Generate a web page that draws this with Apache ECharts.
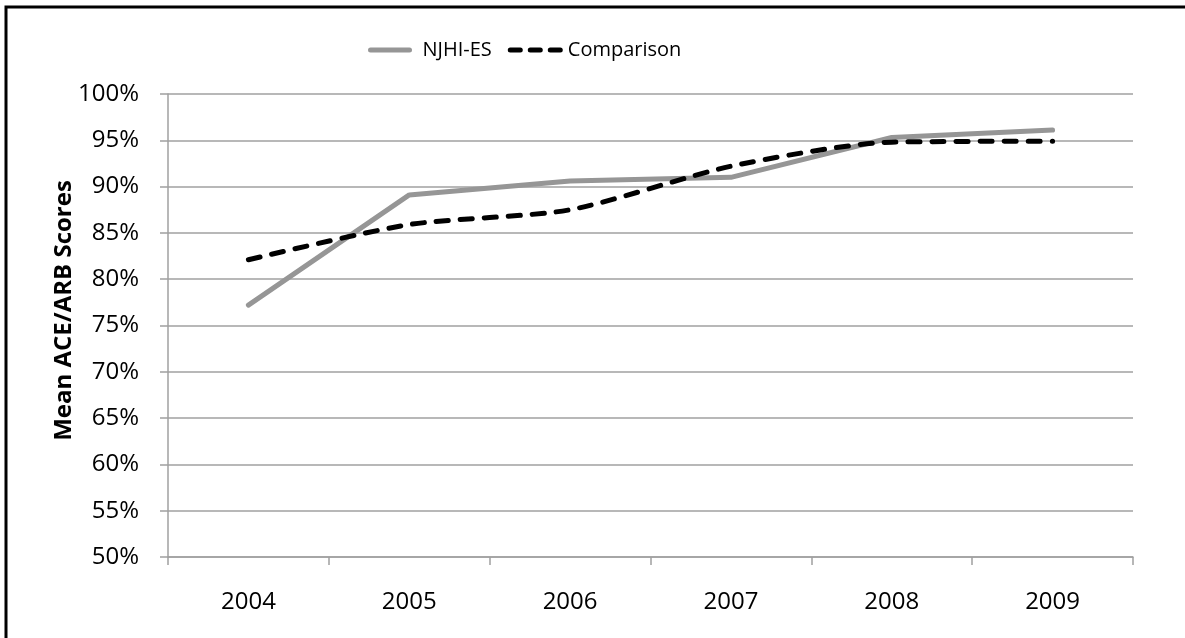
<!DOCTYPE html>
<html>
<head>
<meta charset="utf-8">
<script src="https://cdn.jsdelivr.net/npm/echarts@6/dist/echarts.min.js"></script>
<style>
  html, body { margin: 0; padding: 0; background: #fff; }
  #chart { width: 1185px; height: 638px; }
</style>
</head>
<body>
<div id="chart"></div>
<script>
// Mean ACE/ARB scores by year
const years = ['2004', '2005', '2006', '2007', '2008', '2009'];
const njhiEs = [0.772, 0.891, 0.906, 0.910, 0.953, 0.961];
const comparison = [0.821, 0.859, 0.875, 0.922, 0.948, 0.949];
const yMin = 0.5, yMax = 1.0, yStep = 0.05;

const font = '"Open Sans", Lato, "Liberation Sans", sans-serif';
const chart = echarts.init(document.getElementById('chart'), null, { renderer: 'canvas' });

// legend keys: a solid bar and three short dashes
const solidKey = 'path://M2.5,0 L41.5,0 A2.5,2.5 0 0 1 41.5,5 L2.5,5 A2.5,2.5 0 0 1 2.5,0 Z';
const dashKey = 'path://M2.5,0 L12.5,0 A2.5,2.5 0 0 1 12.5,5 L2.5,5 A2.5,2.5 0 0 1 2.5,0 Z ' +
  'M22.5,0 L32.5,0 A2.5,2.5 0 0 1 32.5,5 L22.5,5 A2.5,2.5 0 0 1 22.5,0 Z ' +
  'M42.5,0 L52.5,0 A2.5,2.5 0 0 1 52.5,5 L42.5,5 A2.5,2.5 0 0 1 42.5,0 Z';

chart.setOption({
  backgroundColor: '#ffffff',
  animation: false,
  textStyle: { fontFamily: font },
  graphic: [{
    type: 'rect',
    shape: { x: 6, y: 7, width: 1200, height: 660 },
    style: { fill: 'none', stroke: '#000', lineWidth: 3 },
    silent: true
  }],
  legend: {
    top: 35,
    left: 363,
    itemWidth: 55,
    itemHeight: 5,
    itemGap: 16,
    textStyle: { fontFamily: font, fontSize: 20, color: '#000' },
    data: [
      { name: 'NJHI-ES', icon: solidKey, itemStyle: { color: '#969696' } },
      { name: 'Comparison', icon: dashKey, itemStyle: { color: '#000' } }
    ]
  },
  grid: { left: 168, right: 52, top: 94, bottom: 81, containLabel: false },
  xAxis: {
    type: 'category',
    data: years,
    boundaryGap: true,
    axisLine: { show: true, lineStyle: { color: '#a0a0a0', width: 1.5 } },
    axisTick: { show: true, length: 8, alignWithLabel: false, lineStyle: { color: '#a0a0a0', width: 1.5 } },
    axisLabel: { fontFamily: font, fontSize: 24, color: '#000', margin: 33 },
    splitLine: { show: false }
  },
  yAxis: {
    type: 'value',
    min: yMin,
    max: yMax,
    interval: yStep,
    name: 'Mean ACE/ARB Scores',
    nameLocation: 'middle',
    nameGap: 92,
    nameMoveOverlap: false,
    nameRotate: 90,
    nameTextStyle: { fontFamily: font, fontSize: 24, fontWeight: 'bold', color: '#000', padding: [0, 0, 0, 30] },
    axisLine: { show: true, lineStyle: { color: '#a0a0a0', width: 1.5 } },
    axisTick: { show: true, length: 8, lineStyle: { color: '#a0a0a0', width: 1.5 } },
    axisLabel: {
      fontFamily: font, fontSize: 24, color: '#000', margin: 29,
      formatter: v => Math.round(v * 100) + '%'
    },
    splitLine: { show: true, lineStyle: { color: '#a0a0a0', width: 1.5 } }
  },
  series: [
    {
      name: 'NJHI-ES',
      type: 'line',
      data: njhiEs,
      symbol: 'none',
      lineStyle: { color: '#969696', width: 5, cap: 'round', join: 'round' },
      itemStyle: { color: '#969696' },
      z: 2
    },
    {
      name: 'Comparison',
      type: 'line',
      data: comparison,
      symbol: 'none',
      smooth: 0.25,
      lineStyle: { color: '#000', width: 5, type: [12, 12], cap: 'round', join: 'round' },
      itemStyle: { color: '#000' },
      z: 3
    }
  ]
});
</script>
</body>
</html>
